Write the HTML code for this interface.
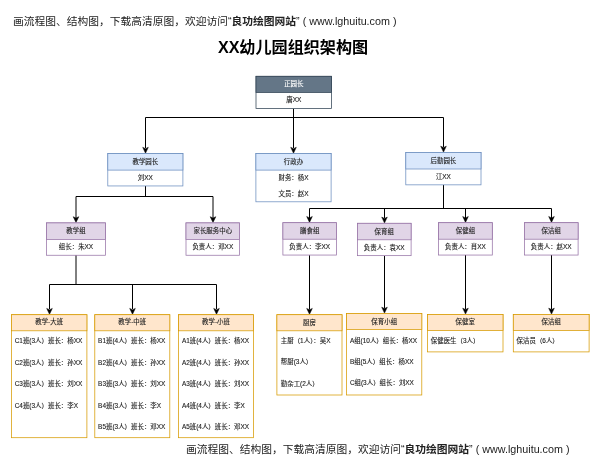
<!DOCTYPE html>
<html lang="zh"><head><meta charset="utf-8"><title>XX幼儿园组织架构图</title>
<style>
html,body{margin:0;padding:0;background:#fff;}
body{width:600px;height:467px;overflow:hidden;position:relative;font-family:"Liberation Sans","Noto Sans CJK SC",sans-serif;}
svg{position:absolute;left:0;top:0;will-change:transform;}
svg text{font-family:"Liberation Sans","Noto Sans CJK SC",sans-serif;font-size:6.45px;stroke-width:0.12px;}
.wm{will-change:transform;position:absolute;white-space:nowrap;font-size:10.75px;color:#222;line-height:14px;}
.wm b{font-weight:bold;}
.title{will-change:transform;position:absolute;left:0;width:586px;top:37px;text-align:center;font-size:16.1px;font-weight:bold;color:#000;line-height:20px;}
</style></head><body>
<div class="wm" style="left:13px;top:13.5px;">画流程图、结构图，下载高清原图，欢迎访问“<b>良功绘图网站</b>” ( www.lghuitu.com )</div>
<div class="title">XX幼儿园组织架构图</div>
<svg width="600" height="467" viewBox="0 0 600 467">
<path d="M293.5 108.7 L293.5 148" fill="none" stroke="#000" stroke-width="1"/>
<path d="M293.5 153.2 L290.7 147.3 L293.5 148.7 L296.3 147.3 Z" fill="#000" stroke="#000" stroke-width="0.5" stroke-linejoin="miter"/>
<path d="M145.5 148 L145.5 117.5 L443.5 117.5 L443.5 147" fill="none" stroke="#000" stroke-width="1"/>
<path d="M145.5 153.2 L142.7 147.3 L145.5 148.7 L148.3 147.3 Z" fill="#000" stroke="#000" stroke-width="0.5" stroke-linejoin="miter"/>
<path d="M443.5 152.1 L440.7 146.20000000000002 L443.5 147.6 L446.3 146.20000000000002 Z" fill="#000" stroke="#000" stroke-width="0.5" stroke-linejoin="miter"/>
<path d="M145.5 186 L145.5 196.5" fill="none" stroke="#000" stroke-width="1"/>
<path d="M76 218 L76 196.5 L213 196.5 L213 218" fill="none" stroke="#000" stroke-width="1"/>
<path d="M76 222.6 L73.2 216.70000000000002 L76 218.1 L78.8 216.70000000000002 Z" fill="#000" stroke="#000" stroke-width="0.5" stroke-linejoin="miter"/>
<path d="M213 222.6 L210.2 216.70000000000002 L213 218.1 L215.8 216.70000000000002 Z" fill="#000" stroke="#000" stroke-width="0.5" stroke-linejoin="miter"/>
<path d="M76 255 L76 284.5" fill="none" stroke="#000" stroke-width="1"/>
<path d="M49.5 309 L49.5 284.5 L216.5 284.5 L216.5 309" fill="none" stroke="#000" stroke-width="1"/>
<path d="M132.5 284.5 L132.5 309" fill="none" stroke="#000" stroke-width="1"/>
<path d="M49.5 314.3 L46.7 308.40000000000003 L49.5 309.8 L52.3 308.40000000000003 Z" fill="#000" stroke="#000" stroke-width="0.5" stroke-linejoin="miter"/>
<path d="M132.5 314.3 L129.7 308.40000000000003 L132.5 309.8 L135.3 308.40000000000003 Z" fill="#000" stroke="#000" stroke-width="0.5" stroke-linejoin="miter"/>
<path d="M216.5 314.3 L213.7 308.40000000000003 L216.5 309.8 L219.3 308.40000000000003 Z" fill="#000" stroke="#000" stroke-width="0.5" stroke-linejoin="miter"/>
<path d="M443.5 184.5 L443.5 208.5" fill="none" stroke="#000" stroke-width="1"/>
<path d="M309.5 218 L309.5 208.5 L551.5 208.5 L551.5 218" fill="none" stroke="#000" stroke-width="1"/>
<path d="M384.5 208.5 L384.5 218" fill="none" stroke="#000" stroke-width="1"/>
<path d="M465.5 208.5 L465.5 218" fill="none" stroke="#000" stroke-width="1"/>
<path d="M309.5 222.39999999999998 L306.7 216.5 L309.5 217.89999999999998 L312.3 216.5 Z" fill="#000" stroke="#000" stroke-width="0.5" stroke-linejoin="miter"/>
<path d="M384.5 223.0 L381.7 217.10000000000002 L384.5 218.5 L387.3 217.10000000000002 Z" fill="#000" stroke="#000" stroke-width="0.5" stroke-linejoin="miter"/>
<path d="M465.5 222.39999999999998 L462.7 216.5 L465.5 217.89999999999998 L468.3 216.5 Z" fill="#000" stroke="#000" stroke-width="0.5" stroke-linejoin="miter"/>
<path d="M551.5 222.39999999999998 L548.7 216.5 L551.5 217.89999999999998 L554.3 216.5 Z" fill="#000" stroke="#000" stroke-width="0.5" stroke-linejoin="miter"/>
<path d="M309.5 255.2 L309.5 309.6" fill="none" stroke="#000" stroke-width="1"/>
<path d="M309.5 314.3 L306.7 308.40000000000003 L309.5 309.8 L312.3 308.40000000000003 Z" fill="#000" stroke="#000" stroke-width="0.5" stroke-linejoin="miter"/>
<path d="M384.5 255.8 L384.5 308.4" fill="none" stroke="#000" stroke-width="1"/>
<path d="M384.5 313.09999999999997 L381.7 307.2 L384.5 308.59999999999997 L387.3 307.2 Z" fill="#000" stroke="#000" stroke-width="0.5" stroke-linejoin="miter"/>
<path d="M465.5 255 L465.5 309.4" fill="none" stroke="#000" stroke-width="1"/>
<path d="M465.5 314.09999999999997 L462.7 308.2 L465.5 309.59999999999997 L468.3 308.2 Z" fill="#000" stroke="#000" stroke-width="0.5" stroke-linejoin="miter"/>
<path d="M551.5 255 L551.5 309.4" fill="none" stroke="#000" stroke-width="1"/>
<path d="M551.5 314.09999999999997 L548.7 308.2 L551.5 309.59999999999997 L554.3 308.2 Z" fill="#000" stroke="#000" stroke-width="0.5" stroke-linejoin="miter"/>
<rect x="256.0" y="76.3" width="75.6" height="32.20" fill="#fff" stroke="#314354" stroke-width="0.75"/>
<rect x="256.0" y="76.3" width="75.6" height="16.2" fill="#647687" stroke="#314354" stroke-width="0.75"/>
<text x="293.80" y="86.20" text-anchor="middle" fill="#fff" stroke="#fff">正园长</text>
<text x="293.80" y="102.40" text-anchor="middle" fill="#222" stroke="#222">唐XX</text>
<rect x="107.8" y="153.6" width="75.1" height="32.35" fill="#fff" stroke="#6c8ebf" stroke-width="0.75"/>
<rect x="107.8" y="153.6" width="75.1" height="16.5" fill="#dae8fc" stroke="#6c8ebf" stroke-width="0.75"/>
<text x="145.35" y="164.00" text-anchor="middle" fill="#222" stroke="#222">教学园长</text>
<text x="145.35" y="180.10" text-anchor="middle" fill="#222" stroke="#222">刘XX</text>
<rect x="255.9" y="153.6" width="75.2" height="48.20" fill="#fff" stroke="#6c8ebf" stroke-width="0.75"/>
<rect x="255.9" y="153.6" width="75.2" height="16.5" fill="#dae8fc" stroke="#6c8ebf" stroke-width="0.75"/>
<text x="293.50" y="164.00" text-anchor="middle" fill="#222" stroke="#222">行政办</text>
<text x="293.50" y="180.10" text-anchor="middle" fill="#222" stroke="#222">财务：杨X</text>
<text x="293.50" y="196.10" text-anchor="middle" fill="#222" stroke="#222">文员：赵X</text>
<rect x="405.8" y="152.5" width="75.2" height="32.35" fill="#fff" stroke="#6c8ebf" stroke-width="0.75"/>
<rect x="405.8" y="152.5" width="75.2" height="16.5" fill="#dae8fc" stroke="#6c8ebf" stroke-width="0.75"/>
<text x="443.40" y="162.90" text-anchor="middle" fill="#222" stroke="#222">后勤园长</text>
<text x="443.40" y="179.00" text-anchor="middle" fill="#222" stroke="#222">江XX</text>
<rect x="46.5" y="222.9" width="59" height="32.35" fill="#fff" stroke="#9673a6" stroke-width="0.75"/>
<rect x="46.5" y="222.9" width="59" height="16.5" fill="#e1d5e7" stroke="#9673a6" stroke-width="0.75"/>
<text x="76.00" y="233.30" text-anchor="middle" fill="#222" stroke="#222">教学组</text>
<text x="76.00" y="249.40" text-anchor="middle" fill="#222" stroke="#222">组长：朱XX</text>
<rect x="186" y="222.9" width="53.6" height="32.35" fill="#fff" stroke="#9673a6" stroke-width="0.75"/>
<rect x="186" y="222.9" width="53.6" height="16.5" fill="#e1d5e7" stroke="#9673a6" stroke-width="0.75"/>
<text x="212.80" y="233.30" text-anchor="middle" fill="#222" stroke="#222">家长服务中心</text>
<text x="212.80" y="249.40" text-anchor="middle" fill="#222" stroke="#222">负责人：邓XX</text>
<rect x="282.9" y="222.7" width="53.7" height="32.35" fill="#fff" stroke="#9673a6" stroke-width="0.75"/>
<rect x="282.9" y="222.7" width="53.7" height="16.5" fill="#e1d5e7" stroke="#9673a6" stroke-width="0.75"/>
<text x="309.75" y="233.10" text-anchor="middle" fill="#222" stroke="#222">膳食组</text>
<text x="309.75" y="249.20" text-anchor="middle" fill="#222" stroke="#222">负责人：李XX</text>
<rect x="357.4" y="223.3" width="53.7" height="32.35" fill="#fff" stroke="#9673a6" stroke-width="0.75"/>
<rect x="357.4" y="223.3" width="53.7" height="16.5" fill="#e1d5e7" stroke="#9673a6" stroke-width="0.75"/>
<text x="384.25" y="233.70" text-anchor="middle" fill="#222" stroke="#222">保育组</text>
<text x="384.25" y="249.80" text-anchor="middle" fill="#222" stroke="#222">负责人：袁XX</text>
<rect x="438.6" y="222.7" width="53.7" height="32.35" fill="#fff" stroke="#9673a6" stroke-width="0.75"/>
<rect x="438.6" y="222.7" width="53.7" height="16.5" fill="#e1d5e7" stroke="#9673a6" stroke-width="0.75"/>
<text x="465.45" y="233.10" text-anchor="middle" fill="#222" stroke="#222">保健组</text>
<text x="465.45" y="249.20" text-anchor="middle" fill="#222" stroke="#222">负责人：肖XX</text>
<rect x="524.4" y="222.7" width="53.7" height="32.35" fill="#fff" stroke="#9673a6" stroke-width="0.75"/>
<rect x="524.4" y="222.7" width="53.7" height="16.5" fill="#e1d5e7" stroke="#9673a6" stroke-width="0.75"/>
<text x="551.25" y="233.10" text-anchor="middle" fill="#222" stroke="#222">保洁组</text>
<text x="551.25" y="249.20" text-anchor="middle" fill="#222" stroke="#222">负责人：赵XX</text>
<rect x="11.4" y="314.7" width="75.5" height="123.00" fill="#fff" stroke="#d79b00" stroke-width="0.75"/>
<rect x="11.4" y="314.7" width="75.5" height="16.1" fill="#ffe6cc" stroke="#d79b00" stroke-width="0.75"/>
<text x="49.15" y="324.40" text-anchor="middle" fill="#222" stroke="#222">教学-大班</text>
<text x="14.70" y="343.20" fill="#222" stroke="#222">C1班(3人）班长：杨XX</text>
<text x="14.70" y="364.65" fill="#222" stroke="#222">C2班(3人）班长：孙XX</text>
<text x="14.70" y="386.10" fill="#222" stroke="#222">C3班(3人）班长：刘XX</text>
<text x="14.70" y="407.55" fill="#222" stroke="#222">C4班(3人）班长：李X</text>
<rect x="94.8" y="314.7" width="75" height="123.00" fill="#fff" stroke="#d79b00" stroke-width="0.75"/>
<rect x="94.8" y="314.7" width="75" height="16.1" fill="#ffe6cc" stroke="#d79b00" stroke-width="0.75"/>
<text x="132.30" y="324.40" text-anchor="middle" fill="#222" stroke="#222">教学-中班</text>
<text x="98.10" y="343.20" fill="#222" stroke="#222">B1班(4人）班长：杨XX</text>
<text x="98.10" y="364.65" fill="#222" stroke="#222">B2班(4人）班长：孙XX</text>
<text x="98.10" y="386.10" fill="#222" stroke="#222">B3班(3人）班长：刘XX</text>
<text x="98.10" y="407.55" fill="#222" stroke="#222">B4班(3人）班长：李X</text>
<text x="98.10" y="429.00" fill="#222" stroke="#222">B5班(3人）班长：邓XX</text>
<rect x="178.6" y="314.7" width="74.9" height="123.00" fill="#fff" stroke="#d79b00" stroke-width="0.75"/>
<rect x="178.6" y="314.7" width="74.9" height="16.1" fill="#ffe6cc" stroke="#d79b00" stroke-width="0.75"/>
<text x="216.05" y="324.40" text-anchor="middle" fill="#222" stroke="#222">教学-小班</text>
<text x="181.90" y="343.20" fill="#222" stroke="#222">A1班(4人）班长：杨XX</text>
<text x="181.90" y="364.65" fill="#222" stroke="#222">A2班(4人）班长：孙XX</text>
<text x="181.90" y="386.10" fill="#222" stroke="#222">A3班(4人）班长：刘XX</text>
<text x="181.90" y="407.55" fill="#222" stroke="#222">A4班(4人）班长：李X</text>
<text x="181.90" y="429.00" fill="#222" stroke="#222">A5班(4人）班长：邓XX</text>
<rect x="276.9" y="314.7" width="65.1" height="80.30" fill="#fff" stroke="#d79b00" stroke-width="0.75"/>
<rect x="276.9" y="314.7" width="65.1" height="16.1" fill="#ffe6cc" stroke="#d79b00" stroke-width="0.75"/>
<text x="309.45" y="324.70" text-anchor="middle" fill="#222" stroke="#222">厨房</text>
<text x="280.80" y="343.35" fill="#222" stroke="#222">主厨（1人）：吴X</text>
<text x="280.80" y="364.45" fill="#222" stroke="#222">帮厨(3人）</text>
<text x="280.80" y="385.55" fill="#222" stroke="#222">勤杂工(2人）</text>
<rect x="346.6" y="313.4" width="75.2" height="81.59" fill="#fff" stroke="#d79b00" stroke-width="0.75"/>
<rect x="346.6" y="313.4" width="75.2" height="16.1" fill="#ffe6cc" stroke="#d79b00" stroke-width="0.75"/>
<text x="384.20" y="323.70" text-anchor="middle" fill="#222" stroke="#222">保育小组</text>
<text x="349.90" y="342.50" fill="#222" stroke="#222">A组(10人）组长：杨XX</text>
<text x="349.90" y="363.90" fill="#222" stroke="#222">B组(5人）组长：杨XX</text>
<text x="349.90" y="385.30" fill="#222" stroke="#222">C组(3人）组长：刘XX</text>
<rect x="427.5" y="314.4" width="75.5" height="37.50" fill="#fff" stroke="#d79b00" stroke-width="0.75"/>
<rect x="427.5" y="314.4" width="75.5" height="16.1" fill="#ffe6cc" stroke="#d79b00" stroke-width="0.75"/>
<text x="465.25" y="324.20" text-anchor="middle" fill="#222" stroke="#222">保健室</text>
<text x="430.80" y="342.50" fill="#222" stroke="#222">保健医生（3人）</text>
<rect x="513.3" y="314.4" width="75.8" height="37.50" fill="#fff" stroke="#d79b00" stroke-width="0.75"/>
<rect x="513.3" y="314.4" width="75.8" height="16.1" fill="#ffe6cc" stroke="#d79b00" stroke-width="0.75"/>
<text x="551.20" y="324.20" text-anchor="middle" fill="#222" stroke="#222">保洁组</text>
<text x="516.60" y="342.50" fill="#222" stroke="#222">保洁员（6人）</text>
</svg>
<div class="wm" style="left:186px;top:441.75px;">画流程图、结构图，下载高清原图，欢迎访问“<b>良功绘图网站</b>” ( www.lghuitu.com )</div>
</body></html>
